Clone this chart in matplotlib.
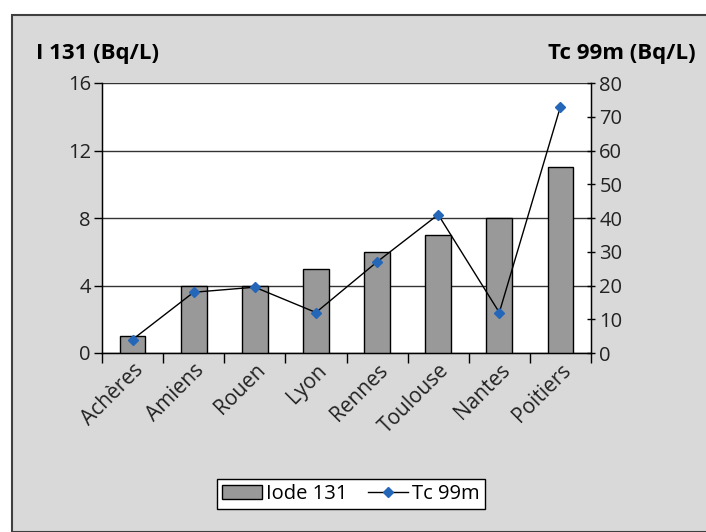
import matplotlib.pyplot as plt
from matplotlib.patches import Rectangle
import numpy as np

villes = ["Achères", "Amiens", "Rouen", "Lyon", "Rennes", "Toulouse", "Nantes", "Poitiers"]
iode_131 = [1, 4, 4, 5, 6, 7, 8, 11]
tc_99m = [4, 18, 19.5, 12, 27, 41, 12, 73]

plt.rcParams['font.family'] = ['Open Sans', 'DejaVu Sans']

fig = plt.figure(figsize=(7.06, 5.32), dpi=100)
fig.patch.set_facecolor("white")
# gray frame
fig.patches.append(Rectangle((12 / 706, 0), 1, 1 - 15 / 532, transform=fig.transFigure,
                             facecolor="#d9d9d9", edgecolor="#404040", linewidth=1.5, zorder=-10))

ax = fig.add_axes([102 / 706, 1 - 353 / 532, (591 - 102) / 706, (353 - 83) / 532])
ax.set_facecolor("white")
x = np.arange(len(villes))
bars = ax.bar(x, iode_131, width=0.42, color="#999999", edgecolor="black", linewidth=1,
              zorder=3, label="Iode 131")
ax.set_xlim(-0.5, len(villes) - 0.5)
ax.set_ylim(0, 16)
ax.set_yticks([0, 4, 8, 12, 16])
ax.yaxis.grid(True, color="#333333", linewidth=1)
ax.set_axisbelow(True)
ax.set_xticks(x)
ax.set_xticklabels(villes, rotation=45, ha="right", rotation_mode="anchor", fontsize=15)
ax.tick_params(axis="x", length=0, pad=5, labelcolor="#222222")
ax.set_xticks(np.arange(-0.5, len(villes)), minor=True)
ax.tick_params(axis="x", which="minor", length=7, width=1, direction="out", color="black")
ax.tick_params(axis="y", labelsize=14.5, length=6, width=1, color="black", pad=2, labelcolor="#222222")
for s in ["top"]:
    ax.spines[s].set_visible(False)
for s in ["left", "bottom", "right"]:
    ax.spines[s].set_color("black")
    ax.spines[s].set_linewidth(1)

ax2 = ax.twinx()
line, = ax2.plot(x, tc_99m, color="black", linewidth=1, marker="D", markersize=5.5,
                 markerfacecolor="#2466b8", markeredgecolor="#2466b8", zorder=4, label="Tc 99m")
ax2.set_ylim(0, 80)
ax2.set_yticks(range(0, 81, 10))
ax2.tick_params(axis="y", labelsize=14.5, length=6, width=1, direction="inout", color="black", pad=3,
                labelcolor="#222222")
ax2.spines["top"].set_visible(False)
ax2.spines["right"].set_color("black")

fig.text(36 / 706, 1 - 53 / 532, "I 131 (Bq/L)", fontsize=16, fontweight="bold", va="center", ha="left")
fig.text(696 / 706, 1 - 53 / 532, "Tc 99m (Bq/L)", fontsize=16, fontweight="bold", va="center", ha="right")

leg = fig.legend([bars, line], ["Iode 131", "Tc 99m"], loc="center", bbox_to_anchor=(351 / 706, 1 - 494 / 532),
                 ncol=2, frameon=True, fancybox=False, fontsize=14.5, handlelength=2.0, handletextpad=0.2,
                 columnspacing=1.0, borderpad=0.25, borderaxespad=0, framealpha=1)
leg.get_frame().set_edgecolor("black")
leg.get_frame().set_linewidth(1)
leg.get_frame().set_facecolor("white")

fig.savefig("out.png", dpi=100)
